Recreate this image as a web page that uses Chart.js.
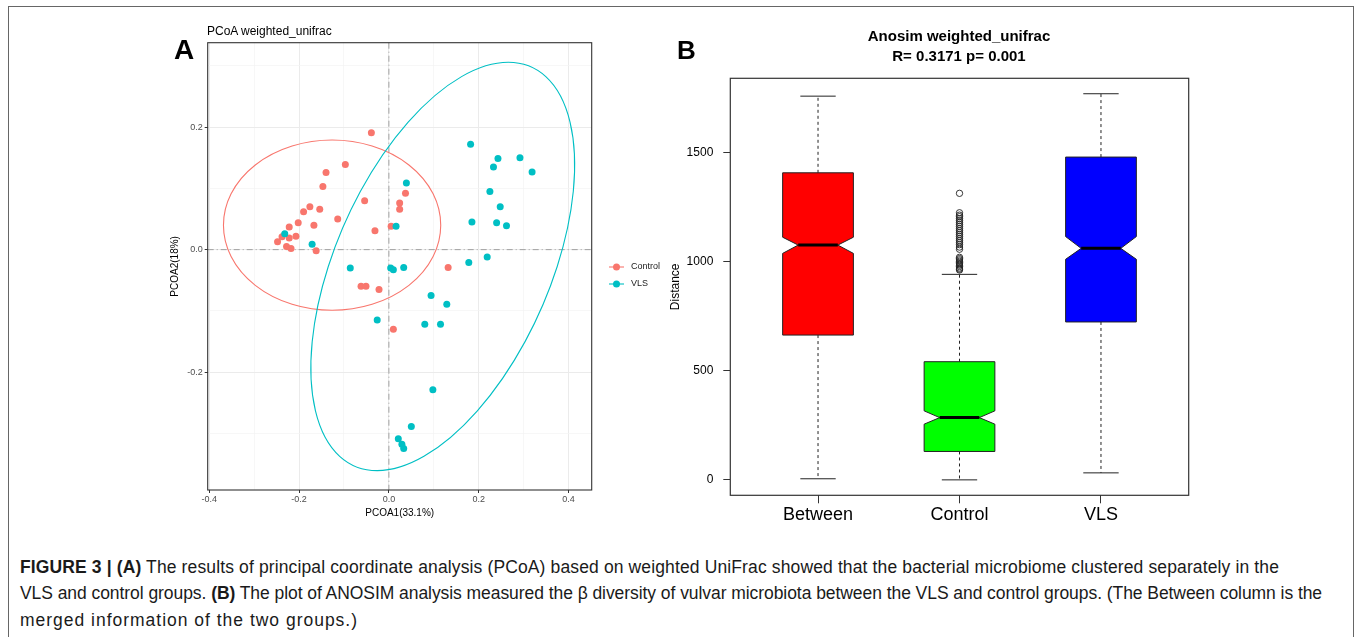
<!DOCTYPE html>
<html>
<head>
<meta charset="utf-8">
<script src="https://cdn.jsdelivr.net/npm/chart.js@4.4.0/dist/chart.umd.min.js"></script>
<style>
html, body { margin: 0; padding: 0; background: #fff; }
body { width: 1356px; height: 637px; position: relative; overflow: hidden; font-family: "Liberation Sans", Arial, sans-serif; }
.abs { position: absolute; white-space: nowrap; line-height: 1; color: #000; }
#frame { position: absolute; left: 8px; top: 6px; width: 1344px; height: 700px; border: 1px solid #666; }
canvas { position: absolute; top: 0; }
.cap { position: absolute; left: 20px; white-space: nowrap; font-size: 17.5px; line-height: 20px; color: #1a1a1a; }
</style>
</head>
<body>
<div id="frame"></div>
<canvas id="pcoa" width="660" height="535" style="left:0"></canvas>
<canvas id="anosim" width="599" height="535" style="left:660px"></canvas>

<div class="abs" style="left:174px;top:36px;font-size:28px;font-weight:bold">A</div>
<div class="abs" style="left:207px;top:25px;font-size:12px">PCoA weighted_unifrac</div>
<div class="abs" style="left:677px;top:37px;font-size:26px;font-weight:bold">B</div>
<div class="abs" style="left:759px;top:28px;width:400px;text-align:center;font-size:15px;font-weight:bold">Anosim weighted_unifrac</div>
<div class="abs" style="left:759px;top:47.5px;width:400px;text-align:center;font-size:15px;font-weight:bold">R= 0.3171 p= 0.001</div>

<div class="cap" data-w="1259" style="top:557px"><b>FIGURE 3 | (A)</b> The results of principal coordinate analysis (PCoA) based on weighted UniFrac showed that the bacterial microbiome clustered separately in the</div>
<div class="cap" data-w="1302" style="top:583px">VLS and control groups. <b>(B)</b> The plot of ANOSIM analysis measured the β diversity of vulvar microbiota between the VLS and control groups. (The Between column is the</div>
<div class="cap" data-w="338" style="top:610px">merged information of the two groups.)</div>

<script>
// PCoA scores
const controlX = [-0.039, -0.097, -0.140, -0.147, -0.054, 0.037, 0.024, 0.024, -0.176, -0.154, -0.190, -0.114, -0.202, -0.167, -0.222, -0.031, 0.005, -0.238, -0.207, -0.222, -0.248, -0.228, -0.218, -0.162, 0.132, -0.062, -0.051, -0.022, 0.010];
const controlY = [0.191, 0.139, 0.126, 0.103, 0.080, 0.092, 0.076, 0.066, 0.070, 0.066, 0.062, 0.050, 0.044, 0.040, 0.037, 0.031, 0.038, 0.021, 0.022, 0.019, 0.013, 0.005, 0.002, -0.002, -0.029, -0.060, -0.060, -0.065, -0.130];
const vlsX = [0.182, 0.243, 0.233, 0.292, 0.319, 0.039, 0.225, 0.248, 0.185, 0.240, 0.262, 0.016, -0.232, -0.171, -0.086, 0.004, 0.010, 0.033, 0.178, 0.219, 0.094, 0.129, -0.026, 0.080, 0.115, 0.098, 0.050, 0.021, 0.029, 0.033];
const vlsY = [0.172, 0.149, 0.135, 0.150, 0.127, 0.109, 0.095, 0.070, 0.045, 0.044, 0.039, 0.038, 0.026, 0.009, -0.030, -0.030, -0.033, -0.029, -0.021, -0.012, -0.075, -0.089, -0.115, -0.122, -0.122, -0.229, -0.289, -0.309, -0.318, -0.325];

// confidence ellipses: centre and axis matrix [[a11, a12], [a21, a22]]
const controlEllipseCenter = [-0.1265, 0.040];
const controlEllipseAxes = [[0.242, 0], [0, 0.139]];
const vlsEllipseCenter = [0.12, -0.0275];
const vlsEllipseAxes = [[0.146, 0.255], [0.3335, 0]];

const pcoaTicksX = [-0.4, -0.3, -0.2, -0.1, 0, 0.1, 0.2, 0.3, 0.4];
const pcoaTicksY = [-0.3, -0.2, -0.1, 0, 0.1, 0.2, 0.3];

// ANOSIM box plot, panel B
const groups = ['Between', 'Control', 'VLS'];
const whiskerLow = [5, 0, 32];
const q1 = [663, 130, 723];
const notchLow = [1037, 255, 1010];
const median = [1075, 285, 1060];
const notchHigh = [1111, 316, 1114];
const q3 = [1406, 541, 1478];
const whiskerHigh = [1757, 941, 1768];
const controlOutliers = [1312, 1223, 1212, 1205, 1196, 1187, 1178, 1169, 1160, 1150, 1141, 1132, 1123, 1114, 1104, 1095, 1086, 1077, 1066, 1056, 1019, 1013, 1007, 1001, 995, 989, 983, 977, 970, 965, 961];
const distanceTicks = [0, 500, 1000, 1500];

const boxColors = ['#FF0000', '#00FF00', '#0000FF'];
const FONT = '"Liberation Sans", Arial, sans-serif';
Chart.defaults.font.family = FONT;

const isMajor = v => Math.abs(Math.round(v * 10)) % 2 === 0;
const fmt = v => { const r = Math.round(v * 10) / 10; return r === 0 ? '0.0' : r.toFixed(1); };

const pcoaDecor = {
    id: 'pcoaDecor',
    beforeDatasetsDraw(chart) {
        const {ctx, chartArea: a, scales: {x, y}} = chart;
        ctx.save();
        // zero reference lines
        ctx.strokeStyle = '#A0A0A0';
        ctx.lineWidth = 1;
        ctx.setLineDash([6, 3, 1, 3]);
        ctx.beginPath();
        ctx.moveTo(x.getPixelForValue(0), a.top);
        ctx.lineTo(x.getPixelForValue(0), a.bottom);
        ctx.moveTo(a.left, y.getPixelForValue(0));
        ctx.lineTo(a.right, y.getPixelForValue(0));
        ctx.stroke();
        ctx.setLineDash([]);

        const sx = x.getPixelForValue(1) - x.getPixelForValue(0);
        const sy = y.getPixelForValue(1) - y.getPixelForValue(0);
        const ellipses = [
            [controlEllipseCenter, controlEllipseAxes, chart.data.datasets[0].backgroundColor],
            [vlsEllipseCenter, vlsEllipseAxes, chart.data.datasets[1].backgroundColor],
        ];
        ellipses.forEach(([c, m, color]) => {
            ctx.save();
            ctx.beginPath();
            ctx.transform(sx * m[0][0], sy * m[1][0], sx * m[0][1], sy * m[1][1],
                x.getPixelForValue(c[0]), y.getPixelForValue(c[1]));
            ctx.arc(0, 0, 1, 0, Math.PI * 2);
            ctx.restore();
            ctx.strokeStyle = color;
            ctx.lineWidth = 1.1;
            ctx.stroke();
        });
        ctx.restore();
    },
    afterDraw(chart) {
        const {ctx, chartArea: a} = chart;
        ctx.save();
        ctx.strokeStyle = '#333';
        ctx.lineWidth = 1.1;
        ctx.strokeRect(a.left, a.top, a.right - a.left, a.bottom - a.top);

        // legend
        ctx.font = '9px ' + FONT;
        ctx.textBaseline = 'middle';
        chart.data.datasets.forEach((ds, i) => {
            const ly = 267 + i * 17;
            ctx.strokeStyle = ds.backgroundColor;
            ctx.lineWidth = 1.1;
            ctx.beginPath();
            ctx.moveTo(609, ly);
            ctx.lineTo(624, ly);
            ctx.stroke();
            ctx.fillStyle = ds.backgroundColor;
            ctx.beginPath();
            ctx.arc(616.5, ly, 3.5, 0, Math.PI * 2);
            ctx.fill();
            ctx.fillStyle = '#222';
            ctx.fillText(ds.label, 631, ly);
        });
        ctx.restore();
    }
};

const pcoaGrid = {
    color: c => c.tick && isMajor(c.tick.value) ? '#EBEBEB' : '#F4F4F4',
    lineWidth: c => c.tick && isMajor(c.tick.value) ? 1 : 0.7,
    tickColor: c => c.tick && isMajor(c.tick.value) ? '#333' : 'rgba(0,0,0,0)',
    tickWidth: 1,
    tickLength: 3,
};

new Chart(document.getElementById('pcoa'), {
    type: 'scatter',
    data: {
        datasets: [
            {
                label: 'Control',
                data: controlX.map((v, i) => ({x: v, y: controlY[i]})),
                backgroundColor: '#F8766D',
                borderWidth: 0,
                pointRadius: 3.5,
                order: 1,
            },
            {
                label: 'VLS',
                data: vlsX.map((v, i) => ({x: v, y: vlsY[i]})),
                backgroundColor: '#00BFC4',
                borderWidth: 0,
                pointRadius: 3.5,
                order: 0,
            },
        ]
    },
    options: {
        responsive: false,
        animation: false,
        events: [],
        layout: {padding: {left: 165, top: 42.7, right: 68.3, bottom: 0}},
        plugins: {legend: {display: false}, tooltip: {enabled: false}},
        scales: {
            x: {
                type: 'linear',
                min: -0.4036,
                max: 0.4518,
                afterBuildTicks: s => { s.ticks = pcoaTicksX.map(v => ({value: v})); },
                afterFit: s => { s.height = 45; },
                ticks: {callback: v => isMajor(v) ? fmt(v) : '', color: '#4D4D4D', font: {size: 9}, padding: 1, maxRotation: 0, autoSkip: false},
                grid: pcoaGrid,
                border: {display: false},
                title: {display: true, text: 'PCOA1(33.1%)', color: '#000', font: {size: 10}, padding: {top: 0, bottom: 16}},
            },
            y: {
                type: 'linear',
                min: -0.3926,
                max: 0.338,
                afterBuildTicks: s => { s.ticks = pcoaTicksY.map(v => ({value: v})); },
                afterFit: s => { s.width = 42.7; },
                ticks: {callback: v => isMajor(v) ? fmt(v) : '', color: '#4D4D4D', font: {size: 9}, padding: 2, autoSkip: false},
                grid: pcoaGrid,
                border: {display: false},
                title: {display: true, text: 'PCOA2(18%)', color: '#000', font: {size: 10}, padding: {top: 4, bottom: 0}},
            }
        }
    },
    plugins: [pcoaDecor]
});

const boxPlot = {
    id: 'boxPlot',
    beforeDatasetsDraw(chart) {
        const {ctx, scales: {x, y}} = chart;
        const half = 0.25, notchHalf = 0.14, capHalf = 0.125;
        ctx.save();
        groups.forEach((g, i) => {
            const c = i + 1;
            const X = v => x.getPixelForValue(v);
            const Y = v => y.getPixelForValue(v);

            // whiskers
            ctx.strokeStyle = '#222';
            ctx.lineWidth = 1;
            ctx.setLineDash([3, 3]);
            ctx.beginPath();
            ctx.moveTo(X(c), Y(q3[i]));
            ctx.lineTo(X(c), Y(whiskerHigh[i]));
            ctx.moveTo(X(c), Y(q1[i]));
            ctx.lineTo(X(c), Y(whiskerLow[i]));
            ctx.stroke();
            ctx.setLineDash([]);
            ctx.beginPath();
            ctx.moveTo(X(c - capHalf), Y(whiskerHigh[i]));
            ctx.lineTo(X(c + capHalf), Y(whiskerHigh[i]));
            ctx.moveTo(X(c - capHalf), Y(whiskerLow[i]));
            ctx.lineTo(X(c + capHalf), Y(whiskerLow[i]));
            ctx.stroke();

            // notched box
            ctx.beginPath();
            ctx.moveTo(X(c - half), Y(q3[i]));
            ctx.lineTo(X(c + half), Y(q3[i]));
            ctx.lineTo(X(c + half), Y(notchHigh[i]));
            ctx.lineTo(X(c + notchHalf), Y(median[i]));
            ctx.lineTo(X(c + half), Y(notchLow[i]));
            ctx.lineTo(X(c + half), Y(q1[i]));
            ctx.lineTo(X(c - half), Y(q1[i]));
            ctx.lineTo(X(c - half), Y(notchLow[i]));
            ctx.lineTo(X(c - notchHalf), Y(median[i]));
            ctx.lineTo(X(c - half), Y(notchHigh[i]));
            ctx.closePath();
            ctx.fillStyle = boxColors[i];
            ctx.fill();
            ctx.strokeStyle = '#222';
            ctx.lineWidth = 1;
            ctx.stroke();

            // median
            ctx.strokeStyle = '#000';
            ctx.lineWidth = 3;
            ctx.beginPath();
            ctx.moveTo(X(c - notchHalf), Y(median[i]));
            ctx.lineTo(X(c + notchHalf), Y(median[i]));
            ctx.stroke();
        });
        ctx.restore();
    },
    afterDraw(chart) {
        const {ctx, chartArea: a} = chart;
        ctx.save();
        ctx.strokeStyle = '#333';
        ctx.lineWidth = 1.2;
        ctx.strokeRect(a.left, a.top, a.right - a.left, a.bottom - a.top);
        ctx.restore();
    }
};

new Chart(document.getElementById('anosim'), {
    type: 'scatter',
    data: {
        datasets: [{
            label: 'Control outliers',
            data: controlOutliers.map(v => ({x: 2, y: v})),
            pointStyle: 'circle',
            pointRadius: 3.2,
            backgroundColor: 'rgba(0,0,0,0)',
            borderColor: '#222',
            borderWidth: 0.9,
        }]
    },
    options: {
        responsive: false,
        animation: false,
        events: [],
        layout: {padding: {left: 0, top: 78.3, right: 70.3, bottom: 0}},
        plugins: {legend: {display: false}, tooltip: {enabled: false}},
        scales: {
            x: {
                type: 'linear',
                min: 0.38,
                max: 3.62,
                afterBuildTicks: s => { s.ticks = groups.map((g, i) => ({value: i + 1})); },
                afterFit: s => { s.height = 39.7; },
                ticks: {callback: v => groups[Math.round(v) - 1], color: '#000', font: {size: 18}, padding: 1, maxRotation: 0, autoSkip: false},
                grid: {drawOnChartArea: false, tickLength: 8, tickColor: '#333', tickWidth: 1},
                border: {display: false},
            },
            y: {
                type: 'linear',
                min: -70.7,
                max: 1838.7,
                afterBuildTicks: s => { s.ticks = distanceTicks.map(v => ({value: v})); },
                afterFit: s => { s.width = 70.3; },
                ticks: {callback: v => String(v), color: '#000', font: {size: 12}, padding: 10, autoSkip: false},
                grid: {drawOnChartArea: false, tickLength: 7, tickColor: '#333', tickWidth: 1},
                border: {display: false},
                title: {display: true, text: 'Distance', color: '#000', font: {size: 12}, padding: {top: 8, bottom: 0}},
            }
        }
    },
    plugins: [boxPlot]
});

// stretch each caption line to the width it has in the reference
document.querySelectorAll('.cap').forEach(el => {
    const target = +el.dataset.w;
    const w = el.getBoundingClientRect().width;
    const n = el.textContent.length;
    el.style.letterSpacing = ((target - w) / n).toFixed(3) + 'px';
});
</script>
</body>
</html>
